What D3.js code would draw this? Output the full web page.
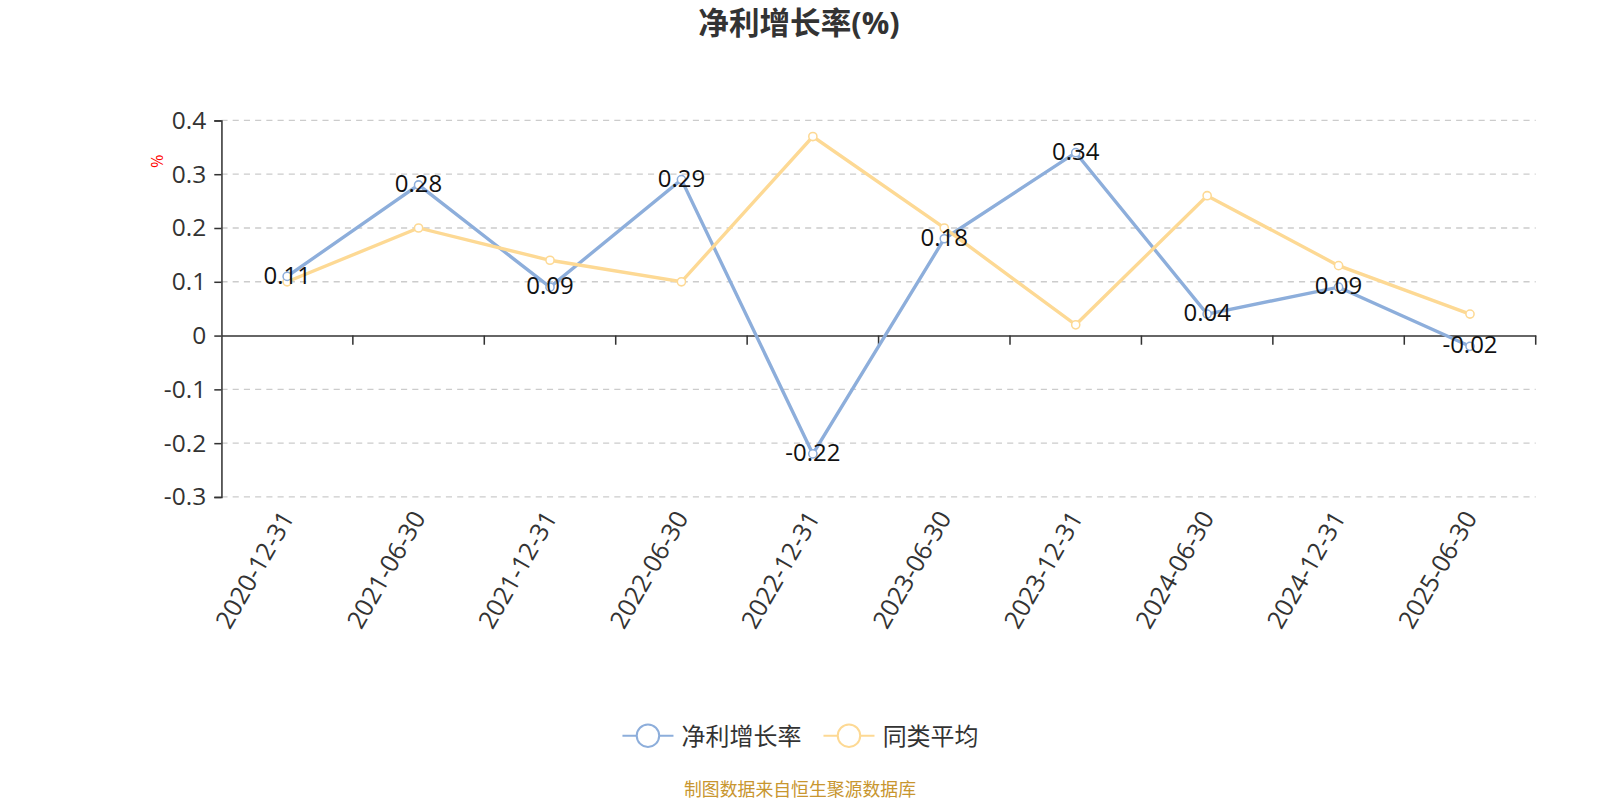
<!DOCTYPE html>
<html>
<head>
<meta charset="utf-8">
<script src="https://cdn.jsdelivr.net/npm/d3@7/dist/d3.min.js"></script>
<style>
  body { margin: 0; background: #fff; }
  text { font-family: "Open Sans", "Noto Sans CJK SC", sans-serif; }
</style>
</head>
<body>
<svg id="chart" width="1600" height="800" viewBox="0 0 1568 784"></svg>
<script>
// data
var categories = ["2020-12-31","2021-06-30","2021-12-31","2022-06-30","2022-12-31",
                  "2023-06-30","2023-12-31","2024-06-30","2024-12-31","2025-06-30"];
var netGrowth = [0.11, 0.28, 0.09, 0.29, -0.22, 0.18, 0.34, 0.04, 0.09, -0.02];
var peerAvg   = [0.10, 0.20, 0.14, 0.10, 0.37, 0.20, 0.02, 0.26, 0.13, 0.04];
var yTicks    = [0.4, 0.3, 0.2, 0.1, 0, -0.1, -0.2, -0.3];
var seriesNames = ["净利增长率", "同类平均"];
var colors = ["#8daedb", "#fdd994"];

var svg = d3.select("#chart");
var plotLeft = 217, plotRight = 1505, plotTop = 118, plotBottom = 487;

var x = d3.scaleBand().domain(categories).range([plotLeft, plotRight]);
var y = d3.scaleLinear().domain([-0.3, 0.4]).range([plotBottom, plotTop]);

// title
svg.append("text")
   .attr("x", 783).attr("y", 33)
   .attr("text-anchor", "middle")
   .attr("font-size", 30).attr("font-weight", "bold")
   .attr("fill", "#333")
   .text("净利增长率(%)");

// grid lines
svg.append("g").selectAll("line")
   .data(yTicks.filter(function(d){ return d !== 0; }))
   .enter().append("line")
   .attr("x1", plotLeft).attr("x2", plotRight)
   .attr("y1", function(d){ return y(d); })
   .attr("y2", function(d){ return y(d); })
   .attr("stroke", "#ccc").attr("stroke-width", 1.3)
   .attr("stroke-dasharray", "6,5");

// y axis
var yAxis = d3.axisLeft(y).tickValues(yTicks).tickSize(7).tickPadding(8)
   .tickFormat(function(d){ return d === 0 ? "0" : d.toFixed(1); });
var gy = svg.append("g").attr("transform", "translate(" + plotLeft + ",0)").call(yAxis);
gy.select(".domain").attr("stroke", "#333").attr("stroke-width", 1.5);
gy.selectAll(".tick line").attr("stroke", "#333").attr("stroke-width", 1.5);
gy.selectAll(".tick text").attr("font-size", 24).attr("fill", "#333")
  .attr("font-family", "'Open Sans', sans-serif");

// x axis at zero
var xAxis = d3.axisBottom(x).tickSize(0).tickFormat("");
var gx = svg.append("g").attr("transform", "translate(0," + y(0) + ")").call(xAxis);
gx.select(".domain").attr("stroke", "#333").attr("stroke-width", 1.5);
gx.selectAll(".tick").remove();
svg.append("g").selectAll("line")
   .data(categories)
   .enter().append("line")
   .attr("x1", function(d){ return x(d) + x.bandwidth(); })
   .attr("x2", function(d){ return x(d) + x.bandwidth(); })
   .attr("y1", y(0)).attr("y2", y(0) + 9)
   .attr("stroke", "#333").attr("stroke-width", 1.5);

// x labels, rotated
svg.append("g").selectAll("text")
   .data(categories)
   .enter().append("text")
   .attr("transform", function(d){
      return "translate(" + (x(d) + x.bandwidth() / 2 + 2) + "," + (plotBottom + 17) + ") rotate(-60)";
   })
   .attr("text-anchor", "end")
   .attr("dominant-baseline", "middle")
   .attr("font-size", 24.5).attr("fill", "#333")
   .text(function(d){ return d; });

// unit label
svg.append("text")
   .attr("transform", "translate(160,158) rotate(-90)")
   .attr("text-anchor", "middle")
   .attr("font-size", 16).attr("fill", "red")
   .text("%");

// series
var cx = function(d, i){ return x(categories[i]) + x.bandwidth() / 2; };
[netGrowth, peerAvg].forEach(function(vals, k){
   var line = d3.line().x(cx).y(function(d){ return y(d); });
   svg.append("path").datum(vals)
      .attr("d", line).attr("fill", "none")
      .attr("stroke", colors[k]).attr("stroke-width", 3.3);
});
[peerAvg, netGrowth].forEach(function(vals){
   var k = vals === netGrowth ? 0 : 1;
   svg.append("g").selectAll("circle")
      .data(vals).enter().append("circle")
      .attr("cx", cx).attr("cy", function(d){ return y(d); })
      .attr("r", 4).attr("fill", "#fff")
      .attr("stroke", colors[k]).attr("stroke-width", 1.5);
});

// value labels for the main series
svg.append("g").selectAll("text")
   .data(netGrowth).enter().append("text")
   .attr("x", cx)
   .attr("y", function(d){ return y(d) + 7; })
   .attr("text-anchor", "middle")
   .attr("font-size", 23.5).attr("fill", "#111")
   .text(function(d){ return d; });

// legend
var legendX = [610, 807];
seriesNames.forEach(function(name, k){
   var g = svg.append("g").attr("transform", "translate(" + legendX[k] + ",721)");
   g.append("line").attr("x1", 0).attr("x2", 50).attr("y1", 0).attr("y2", 0)
    .attr("stroke", colors[k]).attr("stroke-width", 2);
   g.append("circle").attr("cx", 25).attr("cy", 0).attr("r", 11)
    .attr("fill", "#fff").attr("stroke", colors[k]).attr("stroke-width", 2);
   g.append("text").attr("x", 58).attr("y", 0)
    .attr("dominant-baseline", "central")
    .attr("font-size", 23.5).attr("fill", "#333")
    .text(name);
});

// footer
svg.append("text")
   .attr("x", 784).attr("y", 780)
   .attr("text-anchor", "middle")
   .attr("font-size", 17.5).attr("fill", "#c8962f")
   .text("制图数据来自恒生聚源数据库");
</script>
</body>
</html>
